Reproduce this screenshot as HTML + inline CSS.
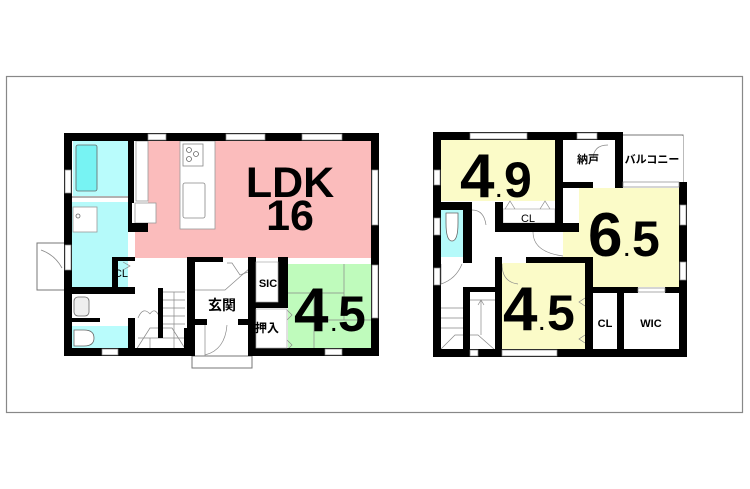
<!DOCTYPE html>
<html><head><meta charset="utf-8"><style>
html,body{margin:0;padding:0;background:#fff;}
svg{display:block;}
text{font-family:"Liberation Sans","Noto Sans CJK JP",sans-serif;}
</style></head><body>
<svg width="750" height="489" viewBox="0 0 750 489" xmlns="http://www.w3.org/2000/svg">
<rect x="0" y="0" width="750" height="489" fill="#fff"/>
<rect x="6.5" y="76.5" width="736" height="336" fill="none" stroke="#888" stroke-width="1.2"/>

<!-- ===== LEFT PLAN ===== -->
<rect x="37" y="243" width="28" height="47" fill="#fff" stroke="#777" stroke-width="1"/>
<path d="M41 250 Q55 255 62 268" fill="none" stroke="#888" stroke-width="0.8"/>
<rect x="192" y="356" width="60" height="12" fill="#fff" stroke="#777" stroke-width="1"/>
<rect x="68" y="137" width="307" height="215" fill="#fff"/>
<polygon points="148,141 372,141 372,258 135,258 135,203 148,203" fill="#fbbcbc"/>
<rect x="136" y="141" width="12" height="60" fill="#fff" stroke="#999" stroke-width="0.8"/>
<rect x="180" y="141" width="35" height="88" fill="#fff" stroke="#999" stroke-width="0.8"/>
<rect x="183" y="144" width="20" height="22" fill="#fff" stroke="#888" stroke-width="0.8"/>
<circle cx="189" cy="150" r="2.5" fill="none" stroke="#666" stroke-width="0.8"/>
<circle cx="196" cy="154" r="2.5" fill="none" stroke="#666" stroke-width="0.8"/>
<circle cx="189" cy="159" r="2.5" fill="none" stroke="#666" stroke-width="0.8"/>
<rect x="183" y="183" width="22" height="35" rx="2" fill="#fff" stroke="#888" stroke-width="0.8"/>
<rect x="135" y="203" width="21" height="20" fill="#fff" stroke="#999" stroke-width="0.8"/>
<rect x="73" y="141" width="55" height="55" fill="#b9fcfc"/>
<rect x="76" y="145" width="21" height="46" rx="2" fill="#77f3f3" stroke="#666" stroke-width="0.8"/>
<line x1="72" y1="197" x2="128" y2="197" stroke="#999" stroke-width="1.5"/>
<rect x="72" y="202" width="56" height="85" fill="#b5fafa"/>
<rect x="73" y="207" width="24" height="25" fill="#fff" stroke="#999" stroke-width="0.8"/>
<circle cx="78" cy="216" r="2" fill="none" stroke="#666" stroke-width="0.8"/>
<rect x="72" y="326" width="56" height="25" fill="#b9fcfc"/>
<path d="M74 330 h10 q10 0 10 8 q0 8 -10 8 h-10 z" fill="#fff" stroke="#666" stroke-width="0.8"/>
<rect x="74" y="297" width="15" height="19" rx="4" fill="#eee" stroke="#666" stroke-width="0.8"/>
<rect x="288" y="262" width="84" height="88" fill="#bffbbc"/>
<line x1="288" y1="262" x2="372" y2="262" stroke="#fff" stroke-width="4"/>
<line x1="344" y1="264" x2="344" y2="320" stroke="#888" stroke-width="0.7"/>
<line x1="288" y1="293" x2="344" y2="293" stroke="#888" stroke-width="0.7"/>
<line x1="314" y1="293" x2="314" y2="350" stroke="#888" stroke-width="0.7"/>
<line x1="314" y1="320" x2="372" y2="320" stroke="#888" stroke-width="0.7"/>
<g stroke="#888" stroke-width="0.7" fill="none">
<line x1="163" y1="292" x2="185" y2="292"/><line x1="163" y1="300" x2="185" y2="300"/>
<line x1="163" y1="308" x2="185" y2="308"/><line x1="163" y1="316" x2="185" y2="316"/>
<line x1="163" y1="324" x2="185" y2="324"/><line x1="138" y1="338" x2="185" y2="338"/>
<polyline points="136,350 150,328 172,328 186,350"/>
<line x1="174" y1="292" x2="174" y2="350"/>
<line x1="150" y1="338" x2="150" y2="350"/>
<path d="M138 318 q5 -12 12 -4 M160 318 q-5 -12 -10 -4"/>
<path d="M205 325 v30 q20 -5 22 -30"/>
<path d="M227 263 L232 263 L240 275 L248 272" />
<polyline points="195,290 225,290 250,268"/>
<polyline points="287,310 292,315 287,320"/><polyline points="287,340 292,345 287,350"/>
<polyline points="123,262 130,266 123,270"/>
</g>
<g fill="#000">
<rect x="64" y="133" width="315" height="8"/>
<rect x="64" y="133" width="8" height="223"/>
<rect x="371" y="133" width="8" height="223"/>
<rect x="64" y="348" width="128" height="8"/>
<rect x="252" y="348" width="127" height="8"/>
<rect x="128" y="133" width="6" height="70"/>
<rect x="128" y="223" width="20" height="9"/>
<rect x="128" y="203" width="4" height="20"/>
<rect x="112" y="257" width="6" height="33"/>
<rect x="118" y="257" width="17" height="4"/>
<rect x="64" y="287" width="71" height="7"/>
<rect x="72" y="318" width="28" height="4"/>
<rect x="128" y="318" width="7" height="38"/>
<rect x="158" y="288" width="5" height="50"/>
<rect x="187" y="257" width="8" height="99"/>
<rect x="195" y="257" width="28" height="5"/>
<rect x="248" y="257" width="8" height="99"/>
<rect x="278" y="257" width="10" height="51"/>
<rect x="248" y="302" width="40" height="6"/>
<rect x="193" y="319" width="14" height="6"/>
<rect x="238" y="319" width="18" height="6"/>
<rect x="184" y="328" width="11" height="28"/>
</g>
<g fill="#fff" stroke="#888" stroke-width="0.7">
<rect x="148" y="134" width="18" height="6"/>
<rect x="226" y="134" width="39" height="6"/>
<rect x="302" y="134" width="40" height="6"/>
<rect x="65" y="170" width="6" height="23"/>
<rect x="65" y="245" width="6" height="25"/>
<rect x="372" y="170" width="6" height="55"/>
<rect x="372" y="265" width="6" height="53"/>
<rect x="102" y="349" width="16" height="6"/>
<rect x="325" y="349" width="17" height="6"/>
<rect x="256" y="309" width="31" height="39" stroke="#aaa"/>
<rect x="256" y="262" width="22" height="40" stroke="#aaa"/>
</g>
<text x="290" y="197" font-size="43" font-weight="bold" text-anchor="middle" fill="#000">LDK</text>
<text x="290" y="230" font-size="43" font-weight="bold" text-anchor="middle" fill="#000">16</text>
<text x="294" y="331" font-size="62" font-weight="bold" fill="#000">4</text>
<text x="331" y="331" font-size="20" font-weight="bold" fill="#000">.</text>
<text x="338" y="331" font-size="50" font-weight="bold" fill="#000">5</text>
<text x="222" y="310" font-size="14" font-weight="bold" text-anchor="middle">玄関</text>
<text x="268" y="287" font-size="11" font-weight="bold" text-anchor="middle">SIC</text>
<text x="267" y="332" font-size="12" font-weight="bold" text-anchor="middle">押入</text>
<text x="121" y="277" font-size="11" text-anchor="middle">CL</text>

<!-- ===== RIGHT PLAN ===== -->
<rect x="620" y="135" width="63" height="50" fill="#fff" stroke="#777" stroke-width="1"/>
<rect x="623" y="138" width="57" height="45" fill="none" stroke="#aaa" stroke-width="0.7"/>
<rect x="437" y="136" width="246" height="217" fill="#fff"/>
<rect x="441" y="140" width="115" height="61" fill="#fbfbc8"/>
<polygon points="579,188 679,188 679,287 593,287 593,257 563,257 563,232 579,232" fill="#fbfbc8"/>
<rect x="502" y="263" width="83" height="87" fill="#fbfbc8"/>
<rect x="441" y="210" width="22" height="47" fill="#b5fafa"/>
<path d="M446 213 h12 v10 q0 18 -6 18 q-6 0 -6 -18 z" fill="#fff" stroke="#666" stroke-width="0.8"/>
<rect x="503" y="209" width="52" height="14" fill="#fff" stroke="#aaa" stroke-width="0.7"/>
<g stroke="#888" stroke-width="0.7" fill="none">
<polyline points="505,209 510,201 515,209"/><polyline points="540,209 545,201 550,209"/>
<path d="M472 210 q12 0 14 15"/><path d="M533 232 q0 20 30 24"/><path d="M502 264 q0 18 16 20"/>
<path d="M441 264 v20 q15 -5 21 -20"/><path d="M593 160 q0 -15 15 -15"/>
<polyline points="585,298 579,302 585,306"/><polyline points="585,335 579,339 585,343"/>
<line x1="470" y1="300" x2="495" y2="300"/><line x1="440" y1="308" x2="463" y2="308"/>
<line x1="440" y1="318" x2="463" y2="318"/><line x1="440" y1="328" x2="463" y2="328"/>
<polyline points="440,350 455,335 478,335 495,350"/>
<line x1="481" y1="300" x2="481" y2="335"/><polyline points="478,305 481,300 484,305"/>
</g>
<g fill="#000">
<rect x="433" y="132" width="190" height="8"/>
<rect x="433" y="132" width="8" height="225"/>
<rect x="433" y="349" width="254" height="8"/>
<rect x="679" y="182" width="8" height="175"/>
<rect x="615" y="132" width="8" height="56"/>
<rect x="555" y="132" width="8" height="100"/>
<rect x="563" y="182" width="30" height="6"/>
<rect x="495" y="202" width="8" height="30"/>
<rect x="495" y="223" width="84" height="9"/>
<rect x="433" y="202" width="39" height="8"/>
<rect x="463" y="202" width="9" height="61"/>
<rect x="495" y="257" width="7" height="100"/>
<rect x="526" y="257" width="67" height="6"/>
<rect x="585" y="257" width="8" height="100"/>
<rect x="585" y="287" width="53" height="6"/>
<rect x="665" y="287" width="22" height="6"/>
<rect x="617" y="287" width="7" height="70"/>
<rect x="463" y="287" width="7" height="70"/>
<rect x="463" y="287" width="32" height="5"/>
</g>
<g fill="#fff" stroke="#888" stroke-width="0.7">
<rect x="470" y="133" width="57" height="6"/>
<rect x="577" y="133" width="20" height="6"/>
<rect x="434" y="170" width="6" height="15"/>
<rect x="434" y="218" width="6" height="17"/>
<rect x="434" y="268" width="6" height="17"/>
<rect x="680" y="205" width="6" height="20"/>
<rect x="680" y="262" width="6" height="18"/>
<rect x="470" y="350" width="8" height="6"/>
<rect x="502" y="350" width="55" height="6"/>
<rect x="623" y="182" width="56" height="5"/>
<rect x="638" y="288" width="27" height="4"/>
</g>
<text x="460" y="197" font-size="62" font-weight="bold" fill="#000">4</text>
<text x="496" y="197" font-size="20" font-weight="bold" fill="#000">.</text>
<text x="504" y="197" font-size="50" font-weight="bold" fill="#000">9</text>
<text x="588" y="256" font-size="62" font-weight="bold" fill="#000">6</text>
<text x="624" y="256" font-size="20" font-weight="bold" fill="#000">.</text>
<text x="632" y="256" font-size="50" font-weight="bold" fill="#000">5</text>
<text x="503" y="330" font-size="62" font-weight="bold" fill="#000">4</text>
<text x="539" y="330" font-size="20" font-weight="bold" fill="#000">.</text>
<text x="547" y="330" font-size="50" font-weight="bold" fill="#000">5</text>
<text x="528" y="222" font-size="11" text-anchor="middle">CL</text>
<text x="605" y="327" font-size="11" font-weight="bold" text-anchor="middle">CL</text>
<text x="651" y="327" font-size="11" font-weight="bold" text-anchor="middle">WIC</text>
<text x="588" y="163" font-size="11" font-weight="bold" text-anchor="middle">納戸</text>
<text x="652" y="163" font-size="11" font-weight="bold" text-anchor="middle">バルコニー</text>
</svg>
</body></html>
